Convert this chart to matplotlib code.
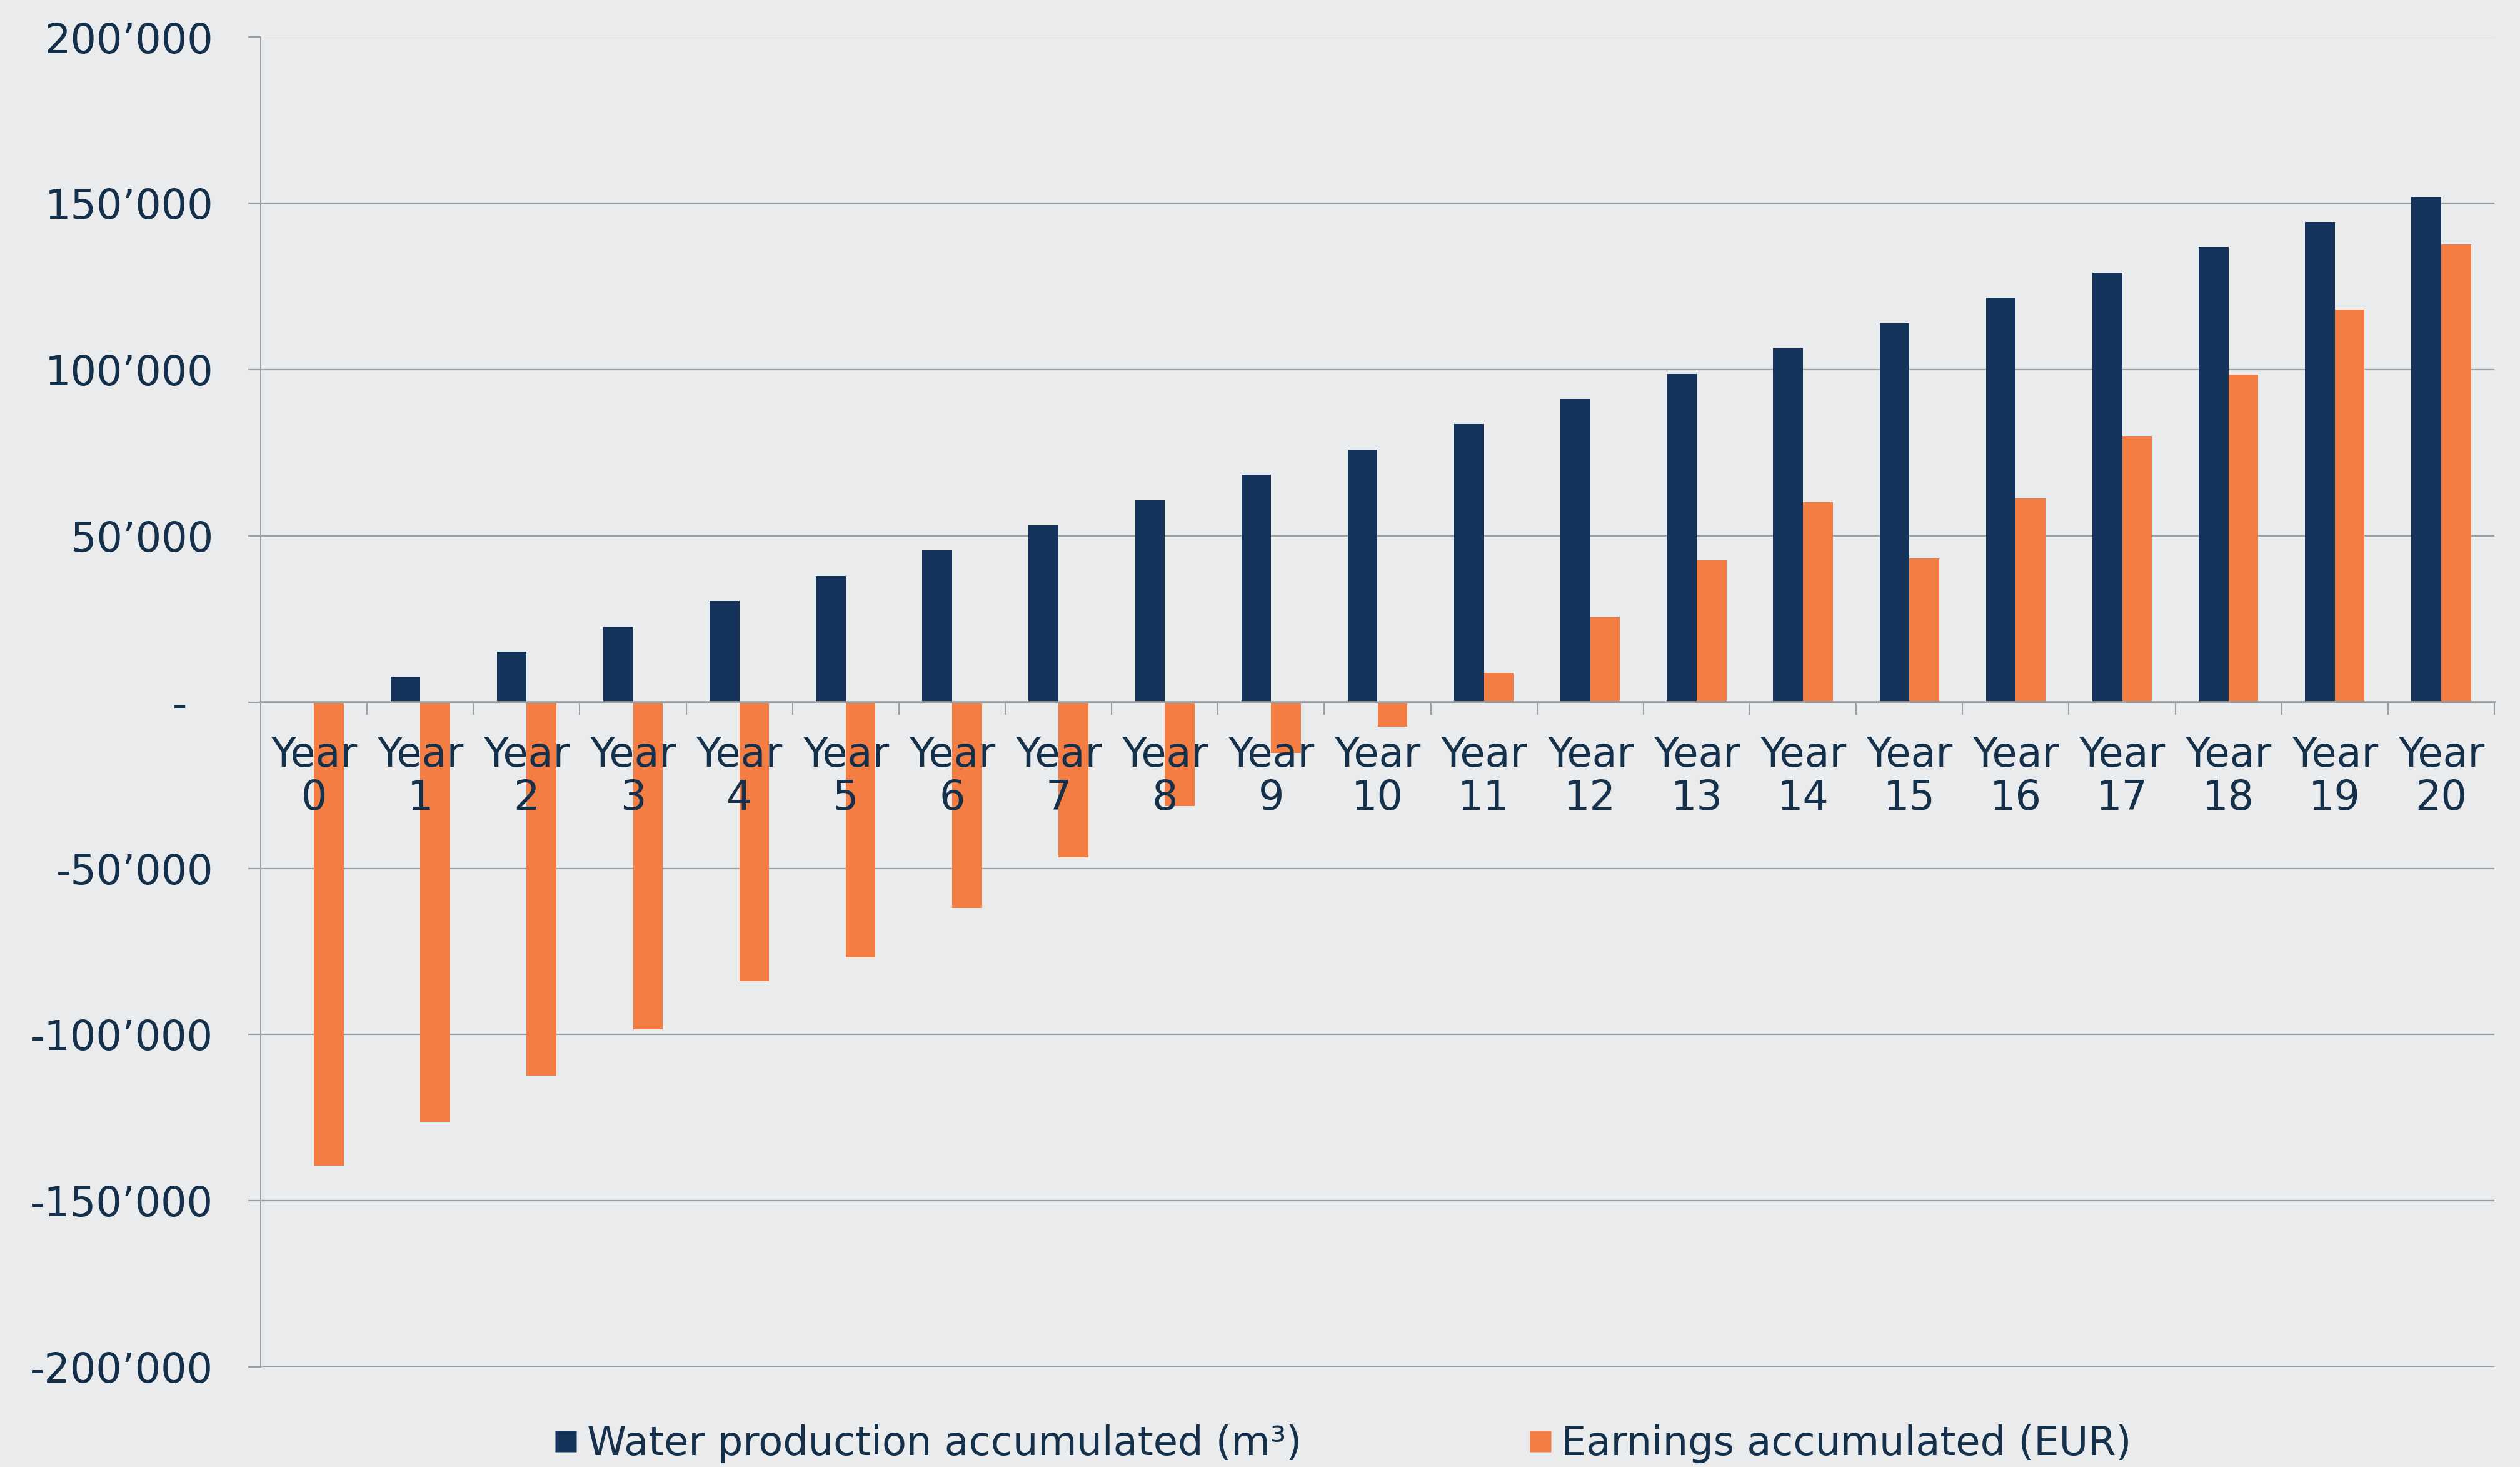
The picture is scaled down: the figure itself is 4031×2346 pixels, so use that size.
import matplotlib
matplotlib.use("Agg")
import matplotlib.pyplot as plt
from matplotlib.lines import Line2D
import numpy as np

plt.rcParams['font.family'] = ['DejaVu Sans']

years = [f"Year\n{i}" for i in range(21)]
water = [0, 7600, 15200, 22800, 30400, 38000, 45600, 53200, 60800, 68400, 76000,
         83600, 91200, 98800, 106400, 114000, 121600, 129200, 136800, 144400, 152000]
earnings = [-139500, -126200, -112400, -98400, -84000, -76700, -61900, -46700, -31200,
            -15300, -7400, 8800, 25600, 42700, 60100, 43200, 61300, 79900, 98600,
            118000, 137700]
yticks = [200000, 150000, 100000, 50000, 0, -50000, -100000, -150000, -200000]
ytick_labels = ["200’000", "150’000", "100’000", "50’000", "-  ", "-50’000",
                "-100’000", "-150’000", "-200’000"]
series_names = ["Water production accumulated (m³)", "Earnings accumulated (EUR)"]

NAVY = "#15345b"
ORANGE = "#f47d44"
TEXT = "#14304a"
GRID = "#9b9ea1"
BG = "#eaebed"

W, H, DPI = 4031, 2346, 100
fig = plt.figure(figsize=(W / DPI, H / DPI), dpi=DPI, facecolor=BG)
ax = fig.add_axes([417 / W, 1 - 2186 / H, (3990 - 417) / W, (2186 - 59.5) / H])
ax.set_facecolor("none")
ax.set_axisbelow(False)

x = np.arange(len(years))
bw = 0.28
ax.bar(x - bw / 2, water, width=bw, color=NAVY, zorder=2)
ax.bar(x + bw / 2, earnings, width=bw, color=ORANGE, zorder=2)

ax.set_xlim(-0.5, 20.5)
ax.set_ylim(-200000, 200000)

# horizontal gridlines behind the bars
for yv in yticks:
    if yv != 0:
        ax.axhline(yv, color=GRID, linewidth=1.6, zorder=1)

# y axis
ax.set_yticks(yticks)
ax.set_yticklabels(ytick_labels)
ax.tick_params(axis='y', which='major', length=14.5, width=1.6, color=GRID,
               direction='out', pad=40, labelsize=47, labelcolor=TEXT)

# x axis at zero
ax.spines['bottom'].set_position(('data', 0))
ax.spines['bottom'].set_color(GRID)
ax.spines['bottom'].set_linewidth(2.6)
ax.spines['left'].set_color(GRID)
ax.spines['left'].set_linewidth(1.4)
ax.spines['top'].set_visible(False)
ax.spines['right'].set_visible(False)

ax.set_xticks(np.arange(-0.5, 21, 1.0))
ax.set_xticklabels([])
ax.set_xticks(x, minor=True)
ax.set_xticklabels(years, minor=True, linespacing=1.1)
ax.tick_params(axis='x', which='major', length=14.5, width=1.4, color=GRID,
               direction='out')
ax.tick_params(axis='x', which='minor', length=0, pad=38, labelsize=47,
               labelcolor=TEXT)

handles = [Line2D([], [], marker='s', linestyle='none', markersize=24.5,
                  markerfacecolor=NAVY, markeredgecolor='none'),
           Line2D([], [], marker='s', linestyle='none', markersize=24.5,
                  markerfacecolor=ORANGE, markeredgecolor='none')]
leg = fig.legend(handles, series_names, loc='center',
                 bbox_to_anchor=(0.533, 1 - 2309 / H), ncol=2, frameon=False,
                 fontsize=46, handlelength=0.55, handletextpad=0.25,
                 columnspacing=5.7, labelcolor=TEXT)

fig.savefig("out.png", dpi=DPI, facecolor=BG)
